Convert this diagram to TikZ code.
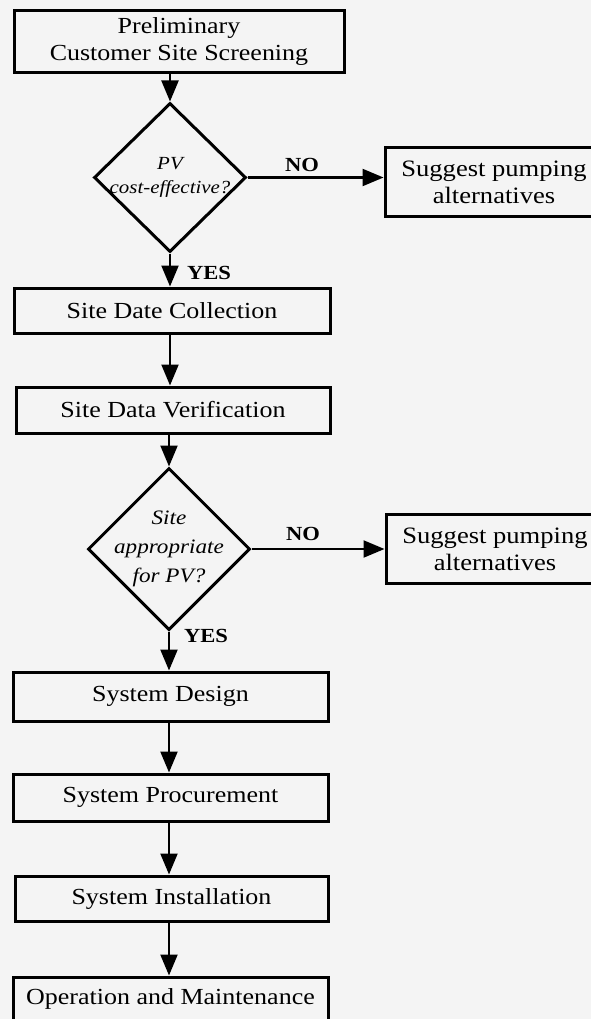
\documentclass[tikz,border=0pt]{standalone}
\usepackage{fontspec}
\setmainfont{Liberation Serif}[FakeStretch=1.13]
\usetikzlibrary{shapes.geometric,arrows.meta}
\definecolor{paper}{HTML}{F4F4F4}
\begin{document}
\begin{tikzpicture}[x=1pt,y=-1pt,
  stepbox/.style={draw, line width=3pt, inner sep=0pt, align=center,
    font=\fontsize{23}{27}\selectfont},
  decision/.style={draw, diamond, line width=3pt, inner sep=0pt},
  question/.style={align=center, inner sep=0pt},
  altbox/.style={stepbox, minimum width=218pt, minimum height=69pt,
    font=\fontsize{23.5}{27}\selectfont},
  flow/.style={line width=2.2pt, -{Triangle[width=17pt,length=21pt]}},
  answer/.style={font=\fontsize{20}{22}\selectfont\bfseries, inner sep=0pt}]
\path[use as bounding box, fill=paper] (0,0) rectangle (591,1019);
\clip (0,0) rectangle (591,1019);

% main column
\node[stepbox, minimum width=330pt, minimum height=62pt] (screen) at (179,42)
  {Preliminary\\Customer Site Screening};
\node[decision, minimum width=152pt, minimum height=149pt,
  label={[question, font=\fontsize{18.5}{24}\selectfont\itshape]center:PV\\cost-effective?}]
  (cost) at (170,177.5) {};
\node[stepbox, minimum width=316pt, minimum height=45pt] (collect) at (172,310.5)
  {Site Date Collection};
\node[stepbox, minimum width=314pt, minimum height=46pt] (verify) at (173,410)
  {Site Data Verification};
\node[decision, minimum width=162pt, minimum height=162pt,
  label={[question, font=\fontsize{20.5}{29}\selectfont\itshape]center:Site\\appropriate\\for PV?}]
  (approp) at (169,549) {};
\node[stepbox, minimum width=315pt, minimum height=49pt] (design) at (170.5,696.5)
  {System Design};
\node[stepbox, minimum width=315pt, minimum height=47pt] (procure) at (170.5,797.5)
  {System Procurement};
\node[stepbox, minimum width=313pt, minimum height=45pt] (install) at (171.5,898.5)
  {System Installation};
\node[stepbox, minimum width=315pt, minimum height=44pt] (operate) at (170.5,999)
  {Operation and Maintenance};

% side branches
\node[altbox] (alt1) at (494,182) {Suggest pumping\\alternatives};
\node[altbox] (alt2) at (495,549) {Suggest pumping\\alternatives};

% connectors
\draw[flow] (screen.south -| cost.north) -- (cost.north);
\draw[flow] (cost.south) -- (collect.north -| cost.south);
\draw[flow] (collect.south -| cost.south) -- (verify.north -| cost.south);
\draw[flow] (verify.south -| approp.north) -- (approp.north);
\draw[flow] (approp.south) -- (design.north -| approp.south);
\draw[flow] (design.south -| approp.south) -- (procure.north -| approp.south);
\draw[flow] (procure.south -| approp.south) -- (install.north -| approp.south);
\draw[flow] (install.south -| approp.south) -- (operate.north -| approp.south);
\draw[flow] (cost.east) -- (cost.east -| alt1.west);
\draw[flow] (approp.east) -- (approp.east -| alt2.west);

% branch labels
\node[answer] (yes1) at (209,273) {YES};
\node[answer] (no1) at (302,165) {NO};
\node[answer] (yes2) at (206,636) {YES};
\node[answer] (no2) at (303,534) {NO};
\end{tikzpicture}
\end{document}
